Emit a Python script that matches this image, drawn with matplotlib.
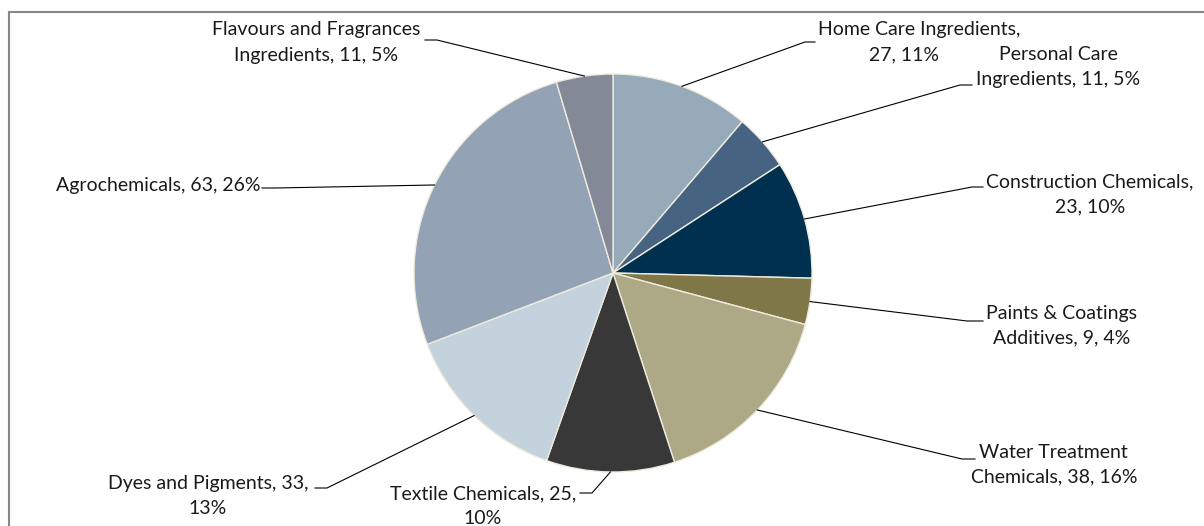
import numpy as np
import matplotlib
matplotlib.use("Agg")
import matplotlib.pyplot as plt
from matplotlib.patches import Rectangle

# data, clockwise from 12 o'clock
names = ["Home Care Ingredients", "Personal Care Ingredients", "Construction Chemicals",
         "Paints & Coatings Additives", "Water Treatment Chemicals", "Textile Chemicals",
         "Dyes and Pigments", "Agrochemicals", "Flavours and Fragrances Ingredients"]
values = [27, 11, 23, 9, 38, 25, 33, 63, 11]
pcts = ["11%", "5%", "10%", "4%", "16%", "10%", "13%", "26%", "5%"]
colors = ["#97AAB9", "#466482", "#00304F", "#7F7747", "#ADA885",
          "#383838", "#C4D2DE", "#93A2B5", "#838997"]

# label lines as wrapped in the picture
label_lines = [
    ["Home Care Ingredients,", "27, 11%"],
    ["Personal Care", "Ingredients, 11, 5%"],
    ["Construction Chemicals,", "23, 10%"],
    ["Paints & Coatings", "Additives, 9, 4%"],
    ["Water Treatment", "Chemicals, 38, 16%"],
    ["Textile Chemicals, 25,", "10%"],
    ["Dyes and Pigments, 33,", "13%"],
    ["Agrochemicals, 63, 26%"],
    ["Flavours and Fragrances", "Ingredients, 11, 5%"],
]
# layout in pixel coords (y from top): (x, y, ha) per line, leader tick start/end
line_pos = [
    [(818, 30, "left"), (904, 55, "center")],
    [(1058, 55, "center"), (1058, 80, "center")],
    [(1090, 182, "center"), (1090, 207, "center")],
    [(1062, 313, "center"), (1062, 338, "center")],
    [(1053, 452, "center"), (1054, 477, "center")],
    [(483, 494, "center"), (483, 518, "center")],
    [(208, 483, "center"), (208, 508, "center")],
    [(158, 186, "center")],
    [(316, 30, "center"), (316, 55, "center")],
]
ticks = [((815, 42), (805, 42)), ((972, 85), (960, 85)), ((983, 187), (972, 187)),
         ((983, 321), (967, 321)), ((975, 459), (962, 459)), ((580, 493), (592, 493)),
         ((315, 488), (327, 488)), ((262, 188), (275, 188)), ((425, 40), (437, 40))]

W, H = 1204, 526
fig = plt.figure(figsize=(W / 100, H / 100), dpi=100)
ax = fig.add_axes([0, 0, 1, 1])

cx, cy, r = 613, H - 273, 199
wedges, _ = ax.pie(values, colors=colors, startangle=90, counterclock=False,
                   center=(cx, cy), radius=r, frame=True,
                   wedgeprops=dict(edgecolor="#EEEBDD", linewidth=1))
ax.set_xlim(0, W)
ax.set_ylim(0, H)
ax.set_aspect("equal")
ax.axis("off")

font = dict(family=["Lato", "DejaVu Sans"], size=14, color="#1a1a1a")

for w, lines, pos, tk in zip(wedges, label_lines, line_pos, ticks):
    mid = np.deg2rad((w.theta1 + w.theta2) / 2)
    ex, ey = cx + r * np.cos(mid), cy + r * np.sin(mid)
    (x0, y0), (x1, y1) = tk
    ax.plot([x0, x1, ex], [H - y0, H - y1, ey], color="black", lw=0.8)
    for s, (x, y, ha) in zip(lines, pos):
        ax.text(x, H - y, s, ha=ha, va="center", **font)

ax.add_patch(Rectangle((9, -20), W, H - 12 + 20, fill=False,
                       edgecolor="#868686", lw=1.5, clip_on=False))

fig.savefig("out.png", dpi=100)
